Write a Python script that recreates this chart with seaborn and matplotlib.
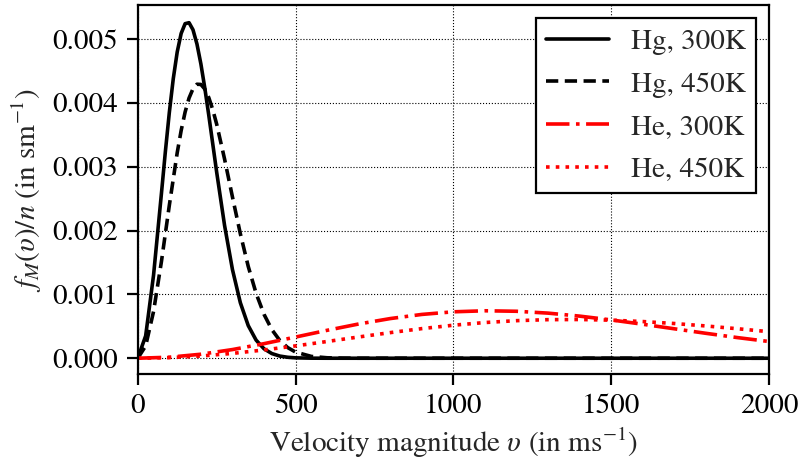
import numpy as np
import pandas as pd
import matplotlib
matplotlib.use("Agg")
import matplotlib.pyplot as plt
import seaborn as sns

# Hg curves (velocity in m/s, f_M/n in s/m)
v_hg300 = [0, 25, 50, 75, 87.5, 100, 112.5, 125, 137.5, 150, 162.5, 175, 187.5,
           200, 212.5, 225, 237.5, 250, 275, 300, 325, 350, 375, 400, 425, 450,
           475, 500, 550, 600, 650, 700, 2000]
hg_300 = [0.0, 0.0003507, 0.0013011, 0.0025817, 0.0032383, 0.0038493, 0.0043782,
          0.0047973, 0.0050870, 0.0052396, 0.0052550, 0.0051435, 0.0049214,
          0.0046087, 0.0042283, 0.0038049, 0.0033598, 0.0029140, 0.0020807,
          0.0013890, 0.0008698, 0.0005117, 0.0002834, 0.0001479, 0.0000729,
          0.0000339, 0.0000150, 0.0000062, 0.0000009, 0.0000001, 0.0, 0.0, 0.0]
v_hg450 = [0, 25, 50, 75, 100, 125, 137.5, 150, 162.5, 175, 187.5, 200, 212.5,
           225, 237.5, 250, 275, 300, 325, 350, 375, 400, 425, 450, 475, 500,
           550, 600, 650, 700, 2000]
hg_450 = [0.0, 0.0001925, 0.0007322, 0.0015152, 0.0023955, 0.0032191, 0.0035671,
          0.0038554, 0.0040749, 0.0042206, 0.0042910, 0.0042876, 0.0042154,
          0.0040817, 0.0038950, 0.0036659, 0.0031198, 0.0025256, 0.0019497,
          0.0014383, 0.0010156, 0.0006875, 0.0004465, 0.0002786, 0.0001670,
          0.0000962, 0.0000285, 0.0000073, 0.0000016, 0.0000003, 0.0]

# He curves
v_he = [0, 100, 200, 300, 400, 500, 600, 700, 800, 900, 1000, 1100, 1200, 1300,
        1400, 1500, 1600, 1700, 1800, 1900, 2000]
he_300 = [0.0, 0.00001609, 0.00006283, 0.0001358, 0.0002283, 0.0003318, 0.0004374,
          0.0005364, 0.0006212, 0.0006860, 0.0007271, 0.0007433, 0.0007355,
          0.0007064, 0.0006596, 0.0006000, 0.0005324, 0.0004612, 0.0003905,
          0.0003233, 0.0002620]
he_450 = [0.0, 0.00000878, 0.00003457, 0.00007572, 0.0001297, 0.0001931, 0.0002622,
          0.0003329, 0.0004012, 0.0004637, 0.0005171, 0.0005592, 0.0005885,
          0.0006042, 0.0006065, 0.0005962, 0.0005747, 0.0005438, 0.0005055,
          0.0004622, 0.0004156]

labels = ["Hg, 300K", "Hg, 450K", "He, 300K", "He, 450K"]
x_ticks = [0, 500, 1000, 1500, 2000]
y_ticks = [0.000, 0.001, 0.002, 0.003, 0.004, 0.005]

sns.set_style("ticks")
plt.rcParams["font.family"] = ["STIXGeneral", "DejaVu Serif"]
plt.rcParams["mathtext.fontset"] = "stix"
FS = 21
plt.rcParams["font.size"] = FS

frames = [
    pd.DataFrame({"v": v_hg300, "f": hg_300, "series": labels[0]}),
    pd.DataFrame({"v": v_hg450, "f": hg_450, "series": labels[1]}),
    pd.DataFrame({"v": v_he, "f": he_300, "series": labels[2]}),
    pd.DataFrame({"v": v_he, "f": he_450, "series": labels[3]}),
]
styles = [
    dict(color="black", linestyle="-"),
    dict(color="black", linestyle=(0, (3.4, 1.8))),
    dict(color="red", linestyle=(0, (6.5, 1.8, 1, 1.8))),
    dict(color="red", linestyle=(0, (1, 1.7))),
]

fig, ax = plt.subplots(figsize=(8.01, 4.66), dpi=100)
for df, st, lab in zip(frames, styles, labels):
    sns.lineplot(data=df, x="v", y="f", ax=ax, label=lab, linewidth=2.6, **st)

ax.set_xlim(0, 2000)
ax.set_ylim(-0.00025, 0.00553)
ax.set_xticks(x_ticks)
ax.set_yticks(y_ticks)
ax.set_yticklabels([f"{t:.3f}" for t in y_ticks])
ax.grid(True, color="black", linestyle=":", linewidth=0.8)
for s in ax.spines.values():
    s.set_linewidth(1.6)
    s.set_color("black")
ax.tick_params(direction="out", length=8, width=1.6, colors="black",
               labelsize=FS, pad=6)
ax.set_xlabel(r"Velocity magnitude $\upsilon$ (in ms$^{-1}$)", fontsize=FS, labelpad=5)
ax.set_ylabel(r"$f_M(\upsilon)/n$ (in sm$^{-1}$)", fontsize=FS, labelpad=6)

leg = ax.legend(loc="upper right", fontsize=FS, frameon=True, fancybox=False,
                handlelength=2.15, borderpad=0.35, labelspacing=0.56,
                handletextpad=0.75, borderaxespad=0.45)
leg.get_frame().set_edgecolor("black")
leg.get_frame().set_linewidth(1.6)
leg.get_frame().set_alpha(1)

fig.subplots_adjust(left=0.172, right=0.96, top=0.989, bottom=0.197)
fig.savefig("out.png", dpi=100)
